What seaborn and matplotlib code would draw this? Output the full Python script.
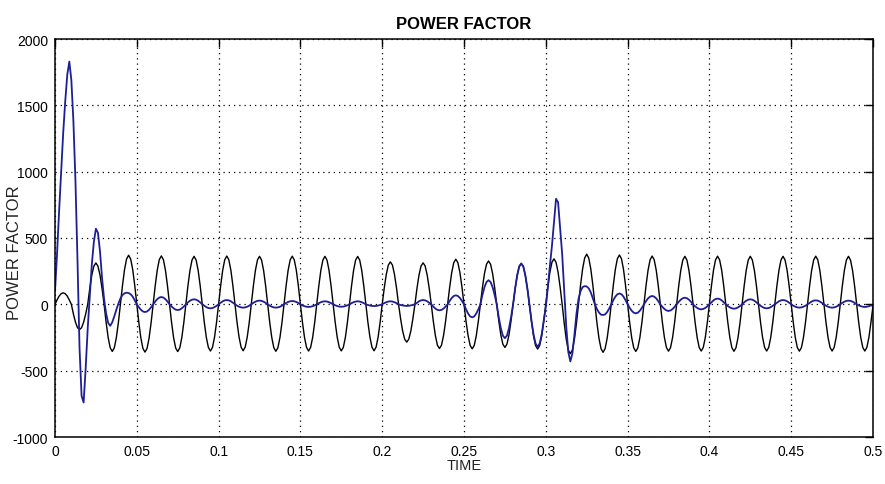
import numpy as np
import pandas as pd
import matplotlib
matplotlib.use("Agg")
import matplotlib.pyplot as plt
import seaborn as sns

TIME_STEP = 0.00125

BLACK_CURVE = [
    0, 33, 62, 80, 87, 80, 62, 33, 0, -73, -134, -176, -190, -176, -134, -73,
    0, 119, 221, 288, 312, 288, 221, 119, 0, -136, -251, -328, -355, -328, -251, -136,
    0, 142, 262, 342, 370, 342, 262, 142, 0, -138, -255, -333, -360, -333, -255, -138,
    0, 140, 258, 337, 365, 337, 258, 140, 0, -136, -252, -329, -356, -329, -252, -136,
    0, 139, 256, 334, 362, 334, 256, 139, 0, -135, -249, -325, -352, -325, -249, -135,
    0, 139, 257, 336, 364, 336, 257, 139, 0, -134, -247, -323, -350, -323, -247, -134,
    0, 139, 256, 334, 362, 334, 256, 139, 0, -136, -250, -327, -354, -327, -250, -136,
    0, 139, 257, 335, 363, 335, 257, 139, 0, -135, -249, -325, -352, -325, -249, -135,
    0, 139, 256, 334, 362, 334, 256, 139, 0, -134, -248, -324, -351, -324, -248, -134,
    0, 138, 255, 334, 361, 334, 255, 138, 0, -134, -247, -323, -350, -323, -247, -134,
    0, 123, 226, 296, 320, 296, 226, 123, 0, -109, -201, -263, -285, -263, -201, -109,
    0, 120, 221, 289, 313, 289, 221, 120, 0, -128, -235, -308, -333, -308, -235, -128,
    0, 130, 240, 314, 340, 314, 240, 130, 0, -128, -237, -310, -335, -310, -237, -128,
    0, 125, 231, 302, 327, 302, 231, 125, 0, -124, -230, -300, -325, -300, -230, -124,
    0, 118, 218, 285, 308, 285, 218, 118, 0, -129, -238, -311, -337, -311, -238, -129,
    0, 131, 242, 317, 343, 317, 242, 131, 0, -142, -263, -344, -372, -344, -263, -142,
    0, 145, 267, 349, 378, 349, 267, 145, 0, -139, -256, -334, -362, -334, -256, -139,
    0, 142, 263, 344, 372, 344, 263, 142, 0, -136, -251, -328, -355, -328, -251, -136,
    0, 139, 257, 336, 364, 336, 257, 139, 0, -135, -250, -326, -353, -326, -250, -135,
    0, 139, 256, 334, 362, 334, 256, 139, 0, -135, -249, -325, -352, -325, -249, -135,
    0, 139, 257, 335, 363, 335, 257, 139, 0, -136, -250, -327, -354, -327, -250, -136,
    0, 139, 256, 334, 362, 334, 256, 139, 0, -135, -249, -325, -352, -325, -249, -135,
    0, 139, 256, 334, 362, 334, 256, 139, 0, -135, -250, -326, -353, -326, -250, -135,
    0, 139, 257, 335, 363, 335, 257, 139, 0, -135, -249, -325, -352, -325, -249, -135,
    0, 139, 256, 334, 362, 334, 256, 139, 0, -135, -249, -325, -352, -325, -249, -135,
    -10,
]

BLUE_CURVE = [
    100, 380, 700, 1000, 1290, 1530, 1730, 1830, 1690, 1380, 930, 330, -330, -690, -740, -480,
    -180, 60, 300, 470, 570, 540, 400, 200, 40, -70, -140, -162, -135, -90, -40, 5,
    45, 70, 83, 88, 85, 76, 58, 30, 0, -22, -41, -54, -58, -54, -41, -22,
    0, 21, 39, 51, 55, 51, 39, 21, 0, -16, -30, -40, -43, -40, -30, -16,
    0, 15, 27, 35, 38, 35, 27, 15, 0, -11, -21, -28, -30, -28, -21, -11,
    0, 12, 23, 30, 32, 30, 23, 12, 0, -10, -18, -23, -25, -23, -18, -10,
    0, 11, 20, 26, 28, 26, 20, 11, 0, -10, -18, -23, -25, -23, -18, -10,
    0, 10, 18, 23, 25, 23, 18, 10, 0, -8, -14, -18, -20, -18, -14, -8,
    0, 9, 16, 21, 23, 21, 16, 9, 0, -7, -13, -17, -18, -17, -13, -7,
    0, 9, 16, 21, 23, 21, 16, 9, 0, -5, -9, -12, -13, -12, -9, -5,
    0, 9, 16, 21, 23, 21, 16, 9, 0, -5, -8, -11, -12, -11, -8, -5,
    0, 12, 23, 30, 32, 30, 23, 12, 0, -17, -32, -42, -45, -42, -32, -17,
    0, 26, 48, 63, 68, 63, 48, 26, 0, -38, -69, -91, -98, -91, -69, -38,
    0, 70, 129, 168, 182, 168, 129, 70, 0, -98, -180, -236, -255, -236, -180, -98,
    0, 118, 218, 285, 308, 285, 218, 118, 0, -123, -226, -296, -320, -296, -226, -123,
    -20, 130, 290, 440, 620, 795, 770, 580, 380, 100, -170, -360, -430, -370, -230, -70,
    40, 100, 130, 137, 135, 120, 90, 45, 0, -35, -62, -78, -80, -76, -58, -32,
    0, 31, 58, 76, 82, 76, 58, 31, 0, -26, -48, -63, -68, -63, -48, -26,
    0, 24, 45, 58, 63, 58, 45, 24, 0, -19, -35, -46, -50, -46, -35, -19,
    0, 19, 35, 46, 50, 46, 35, 19, 0, -15, -27, -35, -38, -35, -27, -15,
    0, 16, 30, 40, 43, 40, 30, 16, 0, -13, -23, -30, -33, -30, -23, -13,
    0, 15, 27, 35, 38, 35, 27, 15, 0, -11, -21, -28, -30, -28, -21, -11,
    0, 12, 23, 30, 32, 30, 23, 12, 0, -10, -18, -23, -25, -23, -18, -10,
    0, 11, 21, 28, 30, 28, 21, 11, 0, -10, -18, -23, -25, -23, -18, -10,
    0, 11, 20, 26, 28, 26, 20, 11, 0, -8, -14, -18, -20, -18, -14, -8,
    -12,
]

X_TICKS = [0, 0.05, 0.1, 0.15, 0.2, 0.25, 0.3, 0.35, 0.4, 0.45, 0.5]
X_TICK_LABELS = ["0", "0.05", "0.1", "0.15", "0.2", "0.25", "0.3", "0.35", "0.4", "0.45", "0.5"]
Y_TICKS = [-1000, -500, 0, 500, 1000, 1500, 2000]
Y_TICK_LABELS = ["-1000", "-500", "0", "500", "1000", "1500", "2000"]

TITLE = "POWER FACTOR"
X_LABEL = "TIME"
Y_LABEL = "POWER FACTOR"

# ---- build table ----
time = np.arange(len(BLACK_CURVE)) * TIME_STEP
df = pd.DataFrame({"time": time, "black": BLACK_CURVE, "blue": BLUE_CURVE})

sns.set_theme(style="white")
plt.rcParams["font.family"] = ["Liberation Sans", "DejaVu Sans"]

fig = plt.figure(figsize=(8.85, 4.85), dpi=100)
ax = fig.add_axes([55 / 885, 1 - 438 / 485, 818 / 885, 398 / 485])

sns.lineplot(data=df, x="time", y="black", ax=ax, color="black",
             linewidth=1.0, estimator=None, sort=False)
sns.lineplot(data=df, x="time", y="blue", ax=ax, color="#1e1e96",
             linewidth=1.3, estimator=None, sort=False)

ax.set_xlim(0, 0.5)
ax.set_ylim(-1000, 2000)
ax.set_xticks(X_TICKS)
ax.set_xticklabels(X_TICK_LABELS)
ax.set_yticks(Y_TICKS)
ax.set_yticklabels(Y_TICK_LABELS)

ax.set_axisbelow(True)
ax.grid(True, color="black", linestyle=(0, (1, 3.2)), linewidth=0.9)
ax.tick_params(direction="in", length=6, width=1, top=True, right=True,
               labelsize=10, pad=5, colors="black")
for sp in ax.spines.values():
    sp.set_color("black")
    sp.set_linewidth(1.1)

ax.set_title(TITLE, fontsize=12, fontweight="bold", pad=8, color="black")
ax.set_xlabel(X_LABEL, fontsize=10.5, color="#222222")
ax.set_ylabel(Y_LABEL, fontsize=12, color="#222222")
ax.xaxis.set_label_coords(0.5, -0.052)
ax.yaxis.set_label_coords(-0.04, 0.465)

fig.savefig("out.png", dpi=100, facecolor="white")
